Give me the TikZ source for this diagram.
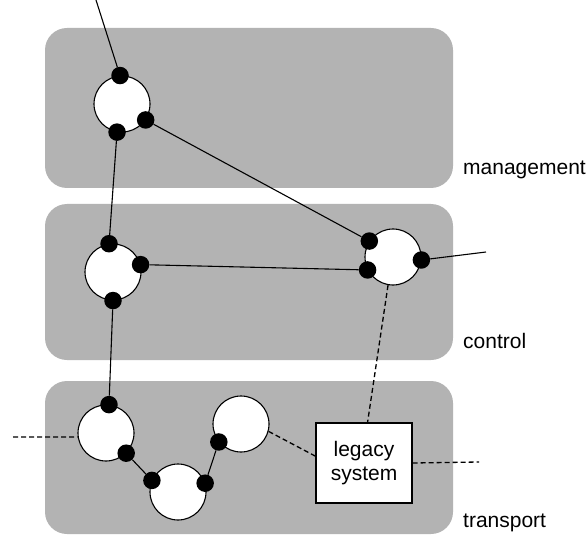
\documentclass[tikz,border=0pt]{standalone}
\usepackage{fontspec}
\setmainfont{Liberation Sans}
\definecolor{layergray}{RGB}{179,179,179}
\tikzset{
  layer/.style={fill=layergray, draw=none, rounded corners=22pt},
  peer/.style={circle, draw=black, fill=white, line width=1.1pt, minimum size=56pt, inner sep=0pt},
  port/.style={circle, fill=black, draw=none, minimum size=17.5pt, inner sep=0pt},
  link/.style={draw=black, line width=1.1pt},
  legacylink/.style={draw=black, line width=1.3pt, dash pattern=on 5pt off 3pt},
  legacybox/.style={rectangle, draw=black, fill=white, line width=1.1pt, minimum width=96pt, minimum height=80pt, align=center, inner sep=0pt},
  layerlabel/.style={anchor=base west, inner sep=0pt},
}
\begin{document}
\begin{tikzpicture}[x=1pt, y=-1pt, font=\fontsize{21}{24}\selectfont]
\useasboundingbox (0,0) rectangle (588,537);

% layers
\fill[layer] (45,28) rectangle (453,188);
\fill[layer] (45,204) rectangle (453,360);
\fill[layer] (45,381) rectangle (453,534);

\node[layerlabel] (lblmgmt) at (463,175) {management};
\node[layerlabel] (lblctrl) at (463,348) {control};
\node[layerlabel] (lbltrans) at (463,527) {transport};

% network elements
\node[peer] (M)  at (122,104) {};
\node[peer] (CL) at (113,272) {};
\node[peer] (CR) at (393,257) {};
\node[peer] (T1) at (106,433) {};
\node[peer] (T2) at (178,492) {};
\node[peer] (T3) at (241,424) {};
\node[legacybox] (legacy) at (364,463) {legacy\\system};

% free ends
\coordinate (topend) at (96,0);
\coordinate (crend) at (486,252);
\coordinate (leftend) at (13,437);
\coordinate (rightend) at (479,462);

% ports
\node[port] (Mt) at (M.94) {};
\node[port] (Mb) at (M.260) {};
\node[port] (Mr) at (M.326) {};
\node[port] (CLt) at (CL.98) {};
\node[port] (CLr) at (CL.15) {};
\node[port] (CLb) at (CL.270) {};
\node[port] (CRa) at (CR.146) {};
\node[port] (CRb) at (CR.207) {};
\node[port] (CRr) at (CR.354) {};
\node[port] (T1t) at (T1.84) {};
\node[port] (T1b) at (T1.315) {};
\node[port] (T2l) at (T2.156) {};
\node[port] (T2r) at (T2.18) {};
\node[port] (T3l) at (T3.219) {};

% links
\draw[link] (Mt) -- (topend);
\draw[link] (Mr) -- (CRa);
\draw[link] (Mb) -- (CLt);
\draw[link] (CLr) -- (CRb);
\draw[link] (CLb) -- (T1t);
\draw[link] (T1b) -- (T2l);
\draw[link] (T2r) -- (T3l);
\draw[link] (CRr) -- (crend);

% legacy connections
\draw[legacylink] (CR.260) -- (legacy.85);
\draw[legacylink] (T3.-15) -- (legacy.172);
\draw[legacylink] (legacy.east) -- (rightend);
\draw[legacylink] (leftend) -- (T1.188);
\end{tikzpicture}
\end{document}
